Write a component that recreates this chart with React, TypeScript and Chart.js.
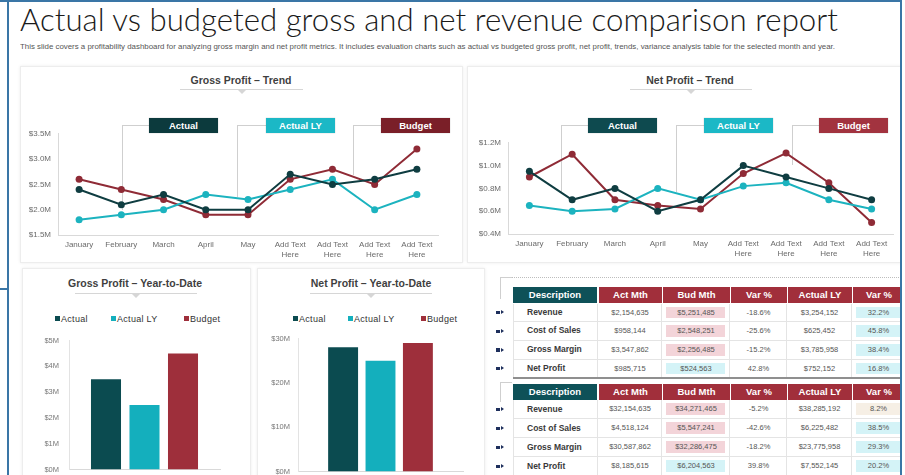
import React, { useEffect, useLayoutEffect, useRef } from 'react';
import Chart from 'chart.js/auto';

// ---------- DATA ----------
const months: (string | string[])[] = ['January', 'February', 'March', 'April', 'May', ['Add Text', 'Here'], ['Add Text', 'Here'], ['Add Text', 'Here'], ['Add Text', 'Here']];
const seriesNames = ['Actual', 'Actual LY', 'Budget'];
const grossActual = [2.4, 2.1, 2.3, 2.0, 2.0, 2.7, 2.5, 2.6, 2.8];
const grossActualLY = [1.8, 1.9, 2.0, 2.3, 2.2, 2.4, 2.6, 2.0, 2.3];
const grossBudget = [2.6, 2.4, 2.2, 1.9, 1.9, 2.6, 2.8, 2.5, 3.2];
const netActual = [0.95, 0.7, 0.8, 0.6, 0.7, 1.0, 0.9, 0.8, 0.7];
const netActualLY = [0.65, 0.6, 0.62, 0.8, 0.7, 0.82, 0.85, 0.7, 0.62];
const netBudget = [0.9, 1.1, 0.7, 0.65, 0.62, 0.93, 1.11, 0.85, 0.5];
const grossYTD = [3.5, 2.5, 4.5];
const netYTD = [28, 25, 29];

const tableHeaders = ['Description', 'Act Mth', 'Bud Mth', 'Var %', 'Actual LY', 'Var %'];
const rowNames = ['Revenue', 'Cost of Sales', 'Gross Margin', 'Net Profit'];
const mthActMth = ['$2,154,635', '$958,144', '$3,547,862', '$985,715'];
const mthBudMth = ['$5,251,485', '$2,548,251', '$2,256,485', '$524,563'];
const mthVar = ['-18.6%', '-25.6%', '-15.2%', '42.8%'];
const mthActualLY = ['$3,254,152', '$625,452', '$3,785,958', '$752,152'];
const mthVarLY = ['32.2%', '45.8%', '38.4%', '16.8%'];
const ytdActMth = ['$32,154,635', '$4,518,124', '$30,587,862', '$8,185,615'];
const ytdBudMth = ['$34,271,465', '$5,547,241', '$32,286,475', '$6,204,563'];
const ytdVar = ['-5.2%', '-42.6%', '-18.2%', '39.8%'];
const ytdActualLY = ['$38,285,192', '$6,225,482', '$23,775,958', '$7,552,145'];
const ytdVarLY = ['8.2%', '38.5%', '29.3%', '20.2%'];

// ---------- STYLE ----------
const SANS = '"Liberation Sans", Arial, sans-serif';
const C_ACT = '#0f3d41';
const C_LY = '#1cb3bf';
const C_BUD = '#8f2b36';
const BAR_COLORS = ['#0b4b50', '#14afbd', '#9e2f3b'];
const RED_HEAD = '#a12f3b';
const TEAL_HEAD = '#0e5158';

function ChartCanvas({ left, top, width, height, make }: any) {
  const ref = useRef<HTMLCanvasElement>(null);
  useEffect(() => {
    const c = new Chart(ref.current!, make());
    return () => c.destroy();
  }, []);
  return <canvas ref={ref} width={width} height={height} style={{ position: 'absolute', left, top, width, height }} />;
}

function FitText({ text, left, top, width, style }: any) {
  const ref = useRef<HTMLSpanElement>(null);
  useLayoutEffect(() => {
    const el = ref.current!;
    el.style.transform = 'none';
    const w = el.getBoundingClientRect().width;
    if (w > 0) el.style.transform = `scaleX(${width / w})`;
  }, []);
  return (
    <span ref={ref} style={{ position: 'absolute', left, top, whiteSpace: 'nowrap', transformOrigin: '0 0', ...style }}>
      {text}
    </span>
  );
}

function lineConfig(data: number[][], min: number, max: number, step: number, yw: number, padRight: number, fmt: (v: number) => string) {
  const colors = [C_ACT, C_LY, C_BUD];
  return {
    type: 'line',
    data: {
      labels: months,
      datasets: data.map((d, i) => ({
        label: seriesNames[i],
        data: d,
        borderColor: colors[i],
        backgroundColor: colors[i],
        borderWidth: 2,
        pointRadius: 3.5,
        pointBackgroundColor: colors[i],
        pointBorderColor: colors[i],
        pointBorderWidth: 0,
        tension: 0,
      })),
    },
    options: {
      animation: false,
      responsive: false,
      maintainAspectRatio: false,
      layout: { padding: { top: 8, right: padRight, left: 0, bottom: 0 } },
      plugins: { legend: { display: false }, tooltip: { enabled: false } },
      scales: {
        x: {
          offset: true,
          grid: { display: false, drawTicks: false },
          border: { display: true, color: '#d9d9d9' },
          ticks: { color: '#6b6b6b', font: { size: 8, family: SANS }, maxRotation: 0, autoSkip: false, padding: 5 },
          afterFit: (s: any) => { s.height = 28; },
        },
        y: {
          min, max,
          grid: { display: false, drawTicks: false },
          border: { display: true, color: '#d9d9d9' },
          ticks: { stepSize: step, color: '#6b6b6b', font: { size: 8, family: SANS }, padding: 7, callback: (v: any) => fmt(Number(v)) },
          afterFit: (s: any) => { s.width = yw; },
        },
      },
    },
  };
}

function barConfig(data: number[], max: number, step: number, yw: number, padRight: number, catPct: number, barPct: number, pad: number) {
  return {
    type: 'bar',
    data: {
      labels: [''],
      datasets: data.map((v, i) => ({
        label: seriesNames[i],
        data: [v],
        backgroundColor: BAR_COLORS[i],
        borderWidth: 0,
        categoryPercentage: catPct,
        barPercentage: barPct,
      })),
    },
    options: {
      animation: false,
      responsive: false,
      maintainAspectRatio: false,
      layout: { padding: { top: 8, right: padRight, left: 0, bottom: 4 } },
      plugins: { legend: { display: false }, tooltip: { enabled: false } },
      scales: {
        x: {
          grid: { display: false },
          border: { display: true, color: '#d9d9d9' },
          ticks: { display: false },
          afterFit: (s: any) => { s.height = 0; },
        },
        y: {
          min: 0, max,
          grid: { display: false, drawTicks: false },
          border: { display: true, color: '#e3e3e3' },
          ticks: { stepSize: step, color: '#777', font: { size: 7.5, family: SANS }, padding: pad, callback: (v: any) => '$' + v + 'M' },
          afterFit: (s: any) => { s.width = yw; },
        },
      },
    },
  };
}

const abs = (l: number, t: number, w: number, h: number, extra: any = {}) => ({ position: 'absolute' as const, left: l, top: t, width: w, height: h, ...extra });

function Card({ l, t, w, h }: any) {
  return <div style={abs(l, t, w, h, { border: '1px solid #ededed', boxShadow: '0 0 3px rgba(0,0,0,0.08)', boxSizing: 'border-box', background: '#fff' })} />;
}

function SectionTitle({ text, cx, cy, ul, ur, uy }: any) {
  return (
    <>
      <div style={abs(cx - 100, cy - 7, 200, 14, { textAlign: 'center', font: `bold 10.5px ${SANS}`, color: '#3f3f3f', lineHeight: '14px' })}>{text}</div>
      <div style={abs(ul, uy, ur - ul, 1, { background: '#d6d6d6' })} />
      <div style={{ position: 'absolute', left: (ul + ur) / 2 - 4, top: uy + 1, width: 0, height: 0, borderLeft: '4px solid transparent', borderRight: '4px solid transparent', borderTop: '4px solid #d6d6d6' }} />
    </>
  );
}

function LegendBox({ l, text, color }: any) {
  return (
    <div style={abs(l, 118, 69, 15, { background: color, color: '#fff', font: `bold 9.5px ${SANS}`, textAlign: 'center', lineHeight: '15px', boxShadow: '0 0 1px rgba(0,0,0,0.3)' })}>
      {text}
    </div>
  );
}

function Connector({ x, boxL, yBottom }: any) {
  return (
    <>
      <div style={abs(x, 125, boxL - x, 1, { background: '#cfcfcf' })} />
      <div style={abs(x, 125, 1, yBottom - 125, { background: '#cfcfcf' })} />
    </>
  );
}

function YtdLegend({ xs }: any) {
  return (
    <>
      {seriesNames.map((n, i) => (
        <React.Fragment key={i}>
          <div style={abs(xs[i], 316, 5, 5, { background: BAR_COLORS[i] })} />
          <div style={abs(xs[i] + 6, 313, 60, 12, { font: `9px ${SANS}`, color: '#333', lineHeight: '12px', letterSpacing: '0.3px', whiteSpace: 'nowrap' })}>{n}</div>
        </React.Fragment>
      ))}
    </>
  );
}

const colX = [513, 598, 662, 730, 787, 852, 905];

function DataTable({ headTop, rowTop, rowH, cols, hl }: any) {
  const els: any[] = [];
  tableHeaders.forEach((h, i) => {
    els.push(
      <div key={'h' + i} style={abs(colX[i] + (i ? 1 : 0), headTop, colX[i + 1] - colX[i] - 1, 16, { background: i === 0 ? TEAL_HEAD : RED_HEAD, color: '#fff', font: `bold 9.5px ${SANS}`, textAlign: 'center', lineHeight: '16px' })}>{h}</div>
    );
  });
  rowNames.forEach((r, ri) => {
    const t = rowTop + ri * rowH;
    els.push(<div key={'b' + ri} style={abs(496, t + rowH / 2 - 2, 4, 3.5, { background: '#1e2f5c' })} />);
    els.push(<div key={'bt' + ri} style={{ position: 'absolute', left: 501, top: t + rowH / 2 - 2.5, width: 0, height: 0, borderTop: '2.5px solid transparent', borderBottom: '2.5px solid transparent', borderLeft: '3px solid #1e2f5c' }} />);
    for (let ci = 0; ci < 6; ci++) {
      const l = colX[ci];
      const w = colX[ci + 1] - l;
      const txt = ci === 0 ? r : cols[ci - 1][ri];
      const bg = hl(ri, ci);
      els.push(
        <div key={'c' + ri + '-' + ci} style={abs(l, t, w, rowH, { borderRight: '1px solid #e4e4e4', borderBottom: '1px solid #e4e4e4', borderLeft: ci === 0 ? '1px solid #e4e4e4' : 'none', boxSizing: 'border-box' })}>
          {bg && <div style={abs(4, 3, w - 9, rowH - 7, { background: bg })} />}
          <div style={abs(ci === 0 ? 13 : 0, 0, ci === 0 ? w - 13 : w, rowH - 1, {
            font: ci === 0 ? `bold 8.5px ${SANS}` : `7.5px ${SANS}`,
            color: ci === 0 ? '#3a3a3a' : '#555',
            textAlign: ci === 0 ? 'left' : 'center',
            lineHeight: rowH - 1 + 'px',
            whiteSpace: 'nowrap',
          })}>{txt}</div>
        </div>
      );
    }
  });
  return <>{els}</>;
}

const PINK = '#f3d4d9';
const CYAN = '#d4f3f7';
const BEIGE = '#f6efe5';

export default function App() {
  const money1 = (v: number) => '$' + v.toFixed(1) + 'M';
  return (
    <div style={{ position: 'absolute', left: 0, top: 0, width: 905, height: 475, background: '#fff', overflow: 'hidden', fontFamily: SANS }}>
      <FitText text="Actual vs budgeted gross and net revenue comparison report" left={20} top={2} width={818}
        style={{ font: `300 32px Lato, "Open Sans", sans-serif`, color: '#1a1a1a', lineHeight: '34px' }} />
      <FitText text="This slide covers a profitability dashboard for analyzing gross margin and net profit metrics. It includes evaluation charts such as actual vs budgeted gross profit, net profit, trends, variance analysis table for the selected month and year."
        left={20} top={42} width={815} style={{ font: `6.5px ${SANS}`, color: '#555', lineHeight: '9px' }} />

      <Card l={20} t={66} w={443} h={197} />
      <Card l={467} t={66} w={440} h={197} />
      <Card l={22} t={268} w={229} h={210} />
      <Card l={257} t={268} w={228} h={210} />

      {/* Gross Profit Trend */}
      <SectionTitle text="Gross Profit – Trend" cx={241} cy={80} ul={180} ur={303} uy={89} />
      <Connector x={122} boxL={149} yBottom={210} />
      <Connector x={237} boxL={266} yBottom={197} />
      <Connector x={353} boxL={381} yBottom={175} />
      <LegendBox l={149} text="Actual" color="#0c3a3d" />
      <LegendBox l={266} text="Actual LY" color="#1bb8c6" />
      <LegendBox l={381} text="Budget" color="#7a1f28" />
      <ChartCanvas left={20} top={122} width={440} height={141}
        make={() => lineConfig([grossActual, grossActualLY, grossBudget], 1.5, 3.5, 0.5, 38, 22, money1)} />

      {/* Net Profit Trend */}
      <SectionTitle text="Net Profit – Trend" cx={690} cy={80} ul={630} ur={752} uy={89} />
      <Connector x={561} boxL={588} yBottom={193} />
      <Connector x={676} boxL={704} yBottom={192} />
      <Connector x={792} boxL={819} yBottom={165} />
      <LegendBox l={588} text="Actual" color="#0e4a4f" />
      <LegendBox l={704} text="Actual LY" color="#1bb8c6" />
      <LegendBox l={819} text="Budget" color="#a2333f" />
      <ChartCanvas left={460} top={131} width={443} height={131}
        make={() => lineConfig([netActual, netActualLY, netBudget], 0.4, 1.2, 0.2, 48, 10, money1)} />

      {/* Gross Profit YTD */}
      <SectionTitle text="Gross Profit – Year-to-Date" cx={135} cy={283} ul={75} ur={197} uy={293} />
      <YtdLegend xs={[55, 111, 184]} />
      <ChartCanvas left={22} top={326} width={208} height={158}
        make={() => barConfig(grossYTD, 5, 1, 47, 10, 0.765, 0.78, 10)} />

      {/* Net Profit YTD */}
      <SectionTitle text="Net Profit – Year-to-Date" cx={371} cy={283} ul={310} ur={432} uy={293} />
      <YtdLegend xs={[293, 348, 421]} />
      <ChartCanvas left={250} top={326} width={223} height={158}
        make={() => barConfig(netYTD, 30, 10, 48, 10, 0.68, 0.8, 8)} />

      {/* Tables */}
      <div style={abs(512, 277, 393, 0, { borderTop: '1px dotted #bdbdbd' })} />
      <div style={abs(500, 277, 12, 0, { borderTop: '1px solid #cfcfcf' })} />
      <div style={abs(500, 277, 0, 22, { borderLeft: '1px solid #cfcfcf' })} />
      <div style={abs(500, 382, 12, 0, { borderTop: '1px solid #cfcfcf' })} />
      <div style={abs(500, 382, 0, 20, { borderLeft: '1px solid #cfcfcf' })} />
      <DataTable headTop={287} rowTop={303.5} rowH={18.7}
        cols={[mthActMth, mthBudMth, mthVar, mthActualLY, mthVarLY]}
        hl={(ri: number, ci: number) => (ci === 2 ? (ri < 3 ? PINK : CYAN) : ci === 5 ? CYAN : null)} />
      <div style={abs(513, 377, 392, 2, { background: '#8f8f8f' })} />
      <DataTable headTop={384} rowTop={400} rowH={19}
        cols={[ytdActMth, ytdBudMth, ytdVar, ytdActualLY, ytdVarLY]}
        hl={(ri: number, ci: number) => (ci === 2 ? (ri < 3 ? PINK : CYAN) : ci === 5 ? (ri === 0 ? BEIGE : CYAN) : null)} />

      {/* Outer frame */}
      <div style={abs(0, 0, 905, 2, { background: '#3a76a6' })} />
      <div style={abs(7, 0, 2, 475, { background: '#3a76a6' })} />
      <div style={abs(900, 0, 2, 475, { background: '#3a76a6' })} />
      <div style={abs(0, 288, 8, 1.5, { background: '#3a76a6' })} />
      <div style={abs(902, 0, 3, 475, { background: '#fff' })} />
    </div>
  );
}
